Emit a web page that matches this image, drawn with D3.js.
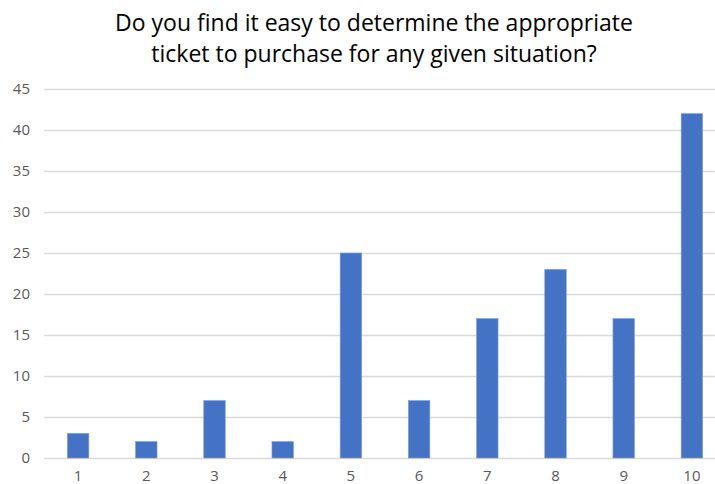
<!DOCTYPE html>
<html>
<head>
<meta charset="utf-8">
<script src="https://cdn.jsdelivr.net/npm/d3@7"></script>
<style>
  html, body { margin: 0; padding: 0; background: #fff; }
  svg { display: block; }
</style>
</head>
<body>
<div class="chart"></div>
<script>
const titleLines = ['Do you find it easy to determine the appropriate', 'ticket to purchase for any given situation?']
const categories = ['1', '2', '3', '4', '5', '6', '7', '8', '9', '10']
const counts = [3, 2, 7, 2, 25, 7, 17, 23, 17, 42]
const yTicks = [0, 5, 10, 15, 20, 25, 30, 35, 40, 45]

const width = 715, height = 484

// plot area runs a little past the right edge of the picture, as in the source
const plotLeft = 44, plotRight = 726, plotTop = 89, plotBottom = 458

const svg = d3.select('.chart')
.append('svg')
.attr('width', width)
.attr('height', height)

let x = d3.scaleBand()
.domain(categories)
.range([plotLeft, plotRight])
.paddingInner(0.685)
.paddingOuter(0.3425)

let y = d3.scaleLinear()
.domain([0, 45])
.range([plotBottom, plotTop])

// title
svg.append('g')
.selectAll('text')
.data(titleLines)
.enter()
.append('text')
.attr('x', 374)
.attr('y', (d, i) => 31 + i * 31)
.attr('text-anchor', 'middle')
.style('font-family', '"Open Sans", sans-serif')
.style('font-size', '23px')
.style('fill', '#000')
.text(d => d)

// gridlines
svg.append('g')
.selectAll('line')
.data(yTicks)
.enter()
.append('line')
.attr('x1', plotLeft)
.attr('x2', plotRight)
.attr('y1', d => Math.round(y(d)) + 0.5)
.attr('y2', d => Math.round(y(d)) + 0.5)
.style('stroke', '#d9d9d9')
.style('stroke-width', 1.3)

const styleTicks = g => {
	g.select('.domain').remove()
	g.selectAll('.tick text')
	.style('font-size', '15px')
	.style('font-family', '"Open Sans", sans-serif')
	.style('fill', '#595959')
}

// y axis labels
svg.append('g')
.attr('transform', `translate(${plotLeft - 14},0)`)
.call(d3.axisLeft(y).tickValues(yTicks).tickSize(0).tickPadding(0))
.call(styleTicks)

// x axis labels
svg.append('g')
.attr('transform', `translate(0,${plotBottom})`)
.call(d3.axisBottom(x).tickSize(0).tickPadding(12))
.call(styleTicks)

// bars
svg.append('g')
.selectAll('rect')
.data(counts)
.enter()
.append('rect')
.attr('x', (d, i) => x(categories[i]))
.attr('y', d => y(d))
.attr('width', x.bandwidth())
.attr('height', d => y(0) - y(d))
.style('fill', '#4472c4')
.style('stroke', '#7f9ed6')
.style('stroke-width', 0.6)
</script>
</body>
</html>
